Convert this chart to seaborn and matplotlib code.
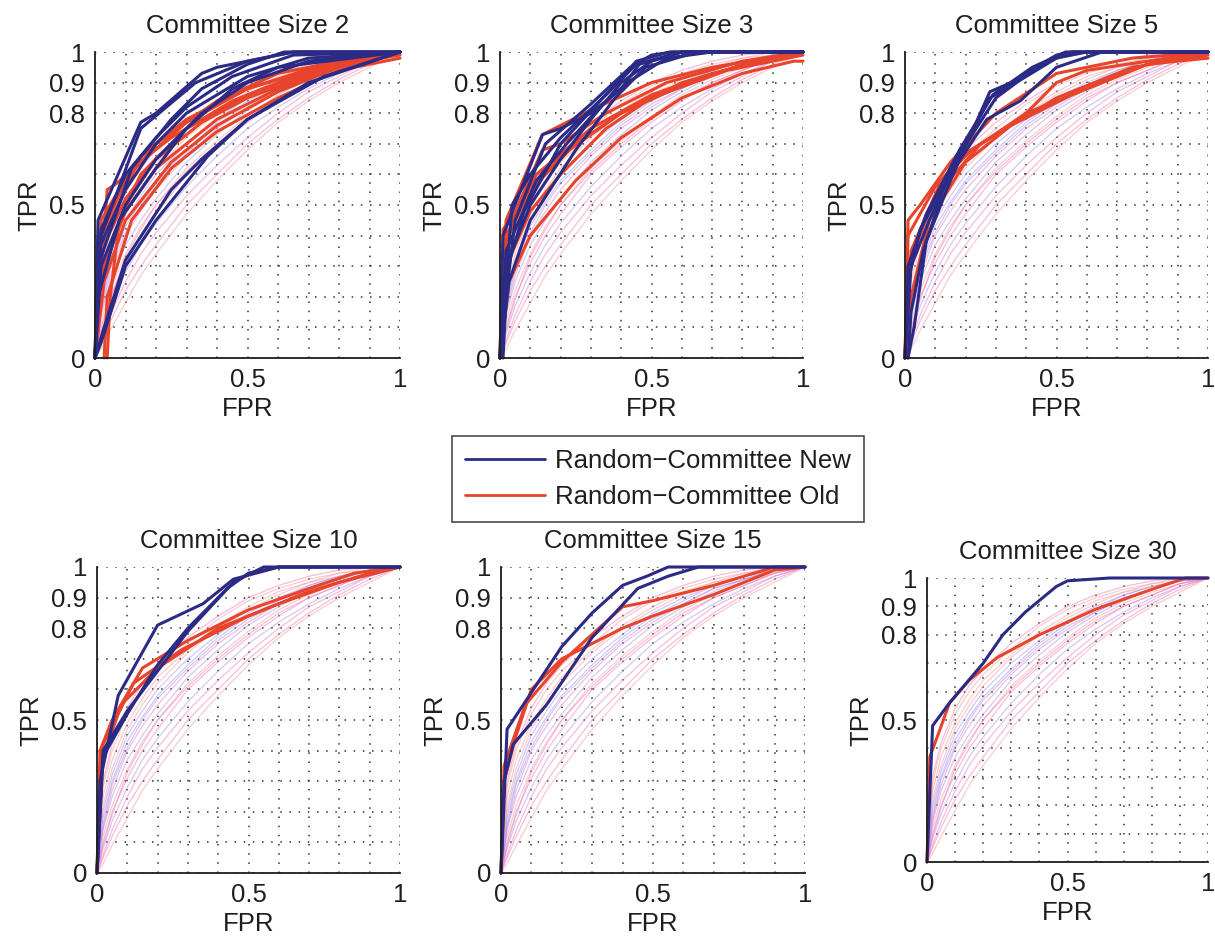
import numpy as np
import pandas as pd
import matplotlib
matplotlib.use("Agg")
import matplotlib.pyplot as plt
import seaborn as sns
from matplotlib.lines import Line2D

sns.set_style("white")
plt.rcParams['font.family'] = ['Liberation Sans', 'DejaVu Sans']

# ---------------- data ----------------
titles = ["Committee Size 2", "Committee Size 3", "Committee Size 5",
          "Committee Size 10", "Committee Size 15", "Committee Size 30"]
legend_labels = ["Random\u2212Committee New", "Random\u2212Committee Old"]

# Each curve: list of (FPR, TPR) points
new_size2 = [
    [(0,0),(0.01,0.45),(0.15,0.77),(0.2,0.8),(0.35,0.93),(0.4,0.95),(0.65,1),(1,1)],
    [(0,0),(0.02,0.4),(0.15,0.75),(0.33,0.9),(0.5,0.97),(0.65,1),(1,1)],
    [(0,0),(0.02,0.05),(0.1,0.3),(0.2,0.45),(0.37,0.66),(0.5,0.78),(0.7,0.9),(1,1)],
    [(0,0),(0.03,0.1),(0.1,0.32),(0.25,0.55),(0.35,0.65),(0.5,0.78),(0.75,0.92),(1,1)],
    [(0,0),(0.01,0.35),(0.1,0.55),(0.2,0.7),(0.3,0.8),(0.5,0.92),(0.7,0.98),(1,1)],
    [(0,0),(0.02,0.3),(0.1,0.5),(0.2,0.65),(0.35,0.8),(0.5,0.9),(0.7,0.97),(1,1)],
    [(0,0),(0.01,0.2),(0.08,0.45),(0.2,0.62),(0.3,0.75),(0.45,0.88),(0.6,0.95),(1,1)],
    [(0,0),(0.02,0.42),(0.1,0.6),(0.2,0.72),(0.3,0.82),(0.45,0.92),(0.65,0.99),(1,1)],
    [(0,0),(0.01,0.3),(0.12,0.62),(0.25,0.78),(0.35,0.88),(0.5,0.96),(0.62,1),(1,1)],
]
old_size2 = [
    [(0.04,0),(0.05,0.2),(0.08,0.45),(0.15,0.6),(0.3,0.75),(0.5,0.86),(0.75,0.95),(1,0.99)],
    [(0,0),(0.04,0.55),(0.07,0.57),(0.15,0.64),(0.3,0.77),(0.5,0.88),(0.75,0.96),(1,1)],
    [(0,0),(0.02,0.35),(0.1,0.52),(0.2,0.65),(0.35,0.77),(0.5,0.85),(0.8,0.96),(1,1)],
    [(0,0),(0.03,0.3),(0.1,0.48),(0.2,0.62),(0.4,0.78),(0.6,0.88),(0.8,0.95),(1,1)],
    [(0,0),(0.02,0.4),(0.1,0.58),(0.2,0.7),(0.4,0.84),(0.6,0.93),(0.8,0.97),(1,1)],
    [(0,0),(0.03,0.25),(0.1,0.45),(0.25,0.64),(0.4,0.76),(0.6,0.87),(0.8,0.95),(1,1)],
    [(0,0),(0.02,0.45),(0.12,0.62),(0.25,0.72),(0.45,0.84),(0.65,0.92),(0.85,0.97),(1,1)],
    [(0.03,0),(0.04,0.2),(0.12,0.45),(0.25,0.62),(0.4,0.74),(0.6,0.85),(0.8,0.94),(1,0.98)],
    [(0,0),(0.02,0.38),(0.15,0.66),(0.3,0.78),(0.5,0.88),(0.7,0.94),(0.9,0.98),(1,1)],
]
new_size3 = [
    [(0.01,0),(0.02,0.2),(0.05,0.45),(0.15,0.7),(0.3,0.83),(0.43,0.95),(0.5,0.99),(0.57,1),(1,1)],
    [(0,0),(0.04,0.5),(0.1,0.6),(0.2,0.72),(0.35,0.86),(0.45,0.96),(0.6,1),(1,1)],
    [(0,0),(0.02,0.3),(0.1,0.5),(0.2,0.65),(0.3,0.78),(0.4,0.9),(0.5,0.97),(0.6,1),(1,1)],
    [(0,0),(0.03,0.25),(0.1,0.45),(0.25,0.68),(0.38,0.85),(0.48,0.95),(0.65,1),(1,1)],
    [(0,0),(0.02,0.35),(0.12,0.58),(0.22,0.7),(0.33,0.82),(0.42,0.9),(0.55,0.98),(0.7,1),(1,1)],
    [(0,0),(0.01,0.4),(0.14,0.73),(0.2,0.75),(0.3,0.8),(0.4,0.88),(0.46,0.96),(0.6,1),(1,1)],
    [(0,0),(0.02,0.28),(0.08,0.48),(0.2,0.7),(0.33,0.84),(0.45,0.97),(0.56,1),(1,1)],
]
old_size3 = [
    [(0,0),(0.02,0.45),(0.14,0.73),(0.3,0.81),(0.5,0.9),(0.7,0.95),(1,1)],
    [(0,0),(0.01,0.35),(0.06,0.5),(0.14,0.68),(0.2,0.7),(0.35,0.8),(0.55,0.9),(0.8,0.97),(1,1)],
    [(0,0),(0.02,0.3),(0.1,0.48),(0.2,0.6),(0.35,0.75),(0.5,0.85),(0.75,0.94),(1,0.99)],
    [(0,0),(0.03,0.25),(0.1,0.4),(0.25,0.58),(0.4,0.72),(0.6,0.85),(0.8,0.93),(0.97,0.97),(1,0.97)],
    [(0,0),(0.02,0.4),(0.1,0.55),(0.25,0.7),(0.4,0.8),(0.6,0.89),(0.8,0.96),(1,1)],
    [(0,0),(0.02,0.38),(0.12,0.6),(0.3,0.75),(0.5,0.86),(0.7,0.93),(0.9,0.98),(1,1)],
    [(0,0),(0.01,0.42),(0.08,0.52),(0.2,0.66),(0.4,0.8),(0.6,0.9),(0.85,0.97),(1,1)],
]
new_size5 = [
    [(0.01,0),(0.03,0.1),(0.07,0.38),(0.15,0.58),(0.28,0.87),(0.35,0.9),(0.5,0.99),(0.55,1),(1,1)],
    [(0,0),(0.02,0.3),(0.08,0.45),(0.18,0.66),(0.28,0.85),(0.4,0.92),(0.5,0.98),(0.6,1),(1,1)],
    [(0,0),(0.01,0.25),(0.05,0.42),(0.15,0.6),(0.27,0.78),(0.38,0.84),(0.5,0.95),(0.65,1),(1,1)],
    [(0.01,0),(0.02,0.15),(0.06,0.35),(0.15,0.62),(0.3,0.85),(0.45,0.96),(0.55,1),(1,1)],
    [(0,0),(0.01,0.3),(0.07,0.47),(0.18,0.68),(0.29,0.86),(0.42,0.95),(0.53,1),(1,1)],
]
old_size5 = [
    [(0,0),(0.01,0.45),(0.05,0.5),(0.15,0.64),(0.3,0.8),(0.5,0.93),(0.75,0.98),(1,1)],
    [(0,0),(0.01,0.3),(0.1,0.53),(0.25,0.7),(0.4,0.8),(0.6,0.88),(0.8,0.96),(1,0.98)],
    [(0,0),(0.02,0.2),(0.08,0.45),(0.2,0.64),(0.35,0.76),(0.55,0.86),(0.8,0.96),(1,1)],
    [(0,0),(0.01,0.4),(0.1,0.56),(0.2,0.67),(0.3,0.73),(0.5,0.85),(0.75,0.95),(1,0.99)],
    [(0,0),(0.02,0.35),(0.12,0.58),(0.22,0.68),(0.38,0.78),(0.5,0.9),(0.6,0.94),(0.8,0.97),(1,1)],
]
new_size10 = [
    [(0,0),(0.01,0.3),(0.07,0.58),(0.2,0.81),(0.35,0.88),(0.45,0.96),(0.6,1),(1,1)],
    [(0,0),(0.02,0.4),(0.1,0.53),(0.2,0.66),(0.3,0.79),(0.45,0.95),(0.55,1),(1,1)],
    [(0,0),(0.02,0.38),(0.1,0.52),(0.2,0.68),(0.3,0.8),(0.43,0.93),(0.5,0.98),(0.6,1),(1,1)],
]
old_size10 = [
    [(0,0),(0.01,0.4),(0.05,0.5),(0.15,0.67),(0.3,0.76),(0.5,0.86),(0.7,0.93),(0.85,0.98),(1,1)],
    [(0,0),(0.01,0.35),(0.08,0.55),(0.2,0.67),(0.4,0.8),(0.6,0.88),(0.8,0.95),(1,1)],
    [(0,0),(0.02,0.42),(0.12,0.62),(0.28,0.73),(0.5,0.84),(0.7,0.92),(0.9,0.98),(1,1)],
]
new_size15 = [
    [(0,0),(0.02,0.47),(0.1,0.59),(0.2,0.74),(0.3,0.85),(0.4,0.94),(0.48,0.97),(0.55,1),(1,1)],
    [(0,0),(0.01,0.3),(0.04,0.42),(0.15,0.55),(0.3,0.77),(0.45,0.93),(0.55,0.97),(0.65,1),(1,1)],
]
old_size15 = [
    [(0,0),(0.01,0.3),(0.05,0.45),(0.1,0.6),(0.2,0.7),(0.3,0.75),(0.4,0.8),(0.5,0.84),(0.7,0.91),(0.9,0.99),(1,1)],
    [(0,0),(0.01,0.35),(0.08,0.55),(0.2,0.69),(0.3,0.78),(0.4,0.87),(0.5,0.89),(0.7,0.94),(0.9,1),(1,1)],
]
new_size30 = [
    [(0,0),(0.02,0.48),(0.08,0.56),(0.2,0.7),(0.27,0.8),(0.35,0.88),(0.46,0.97),(0.5,0.99),(0.65,1),(1,1)],
]
old_size30 = [
    [(0,0),(0.01,0.37),(0.04,0.45),(0.08,0.56),(0.15,0.64),(0.25,0.72),(0.4,0.8),(0.6,0.89),(0.8,0.96),(0.92,1),(1,1)],
]

# faint background curves (other methods)
bg_fpr = [0, 0.02, 0.05, 0.1, 0.15, 0.2, 0.3, 0.4, 0.5, 0.6, 0.7, 0.8, 0.9, 1.0]
bg_tpr = [
    [0, 0.05, 0.12, 0.22, 0.30, 0.37, 0.50, 0.60, 0.70, 0.78, 0.85, 0.91, 0.96, 1],
    [0, 0.08, 0.17, 0.28, 0.37, 0.44, 0.56, 0.66, 0.75, 0.82, 0.88, 0.93, 0.97, 1],
    [0, 0.12, 0.22, 0.34, 0.43, 0.50, 0.62, 0.71, 0.79, 0.86, 0.91, 0.95, 0.98, 1],
    [0, 0.15, 0.27, 0.40, 0.48, 0.55, 0.66, 0.75, 0.82, 0.88, 0.93, 0.96, 0.99, 1],
    [0, 0.20, 0.32, 0.45, 0.53, 0.60, 0.70, 0.78, 0.85, 0.90, 0.94, 0.97, 0.99, 1],
    [0, 0.25, 0.37, 0.49, 0.57, 0.64, 0.73, 0.81, 0.87, 0.92, 0.95, 0.98, 0.99, 1],
    [0, 0.10, 0.20, 0.31, 0.40, 0.47, 0.60, 0.69, 0.77, 0.84, 0.90, 0.94, 0.98, 1],
    [0, 0.18, 0.30, 0.43, 0.51, 0.58, 0.68, 0.77, 0.84, 0.89, 0.94, 0.97, 0.99, 1],
    [0, 0.28, 0.40, 0.52, 0.60, 0.66, 0.75, 0.83, 0.89, 0.93, 0.96, 0.98, 1.00, 1],
    [0, 0.06, 0.14, 0.25, 0.34, 0.41, 0.53, 0.63, 0.72, 0.80, 0.87, 0.92, 0.97, 1],
    [0, 0.14, 0.25, 0.37, 0.45, 0.52, 0.64, 0.73, 0.81, 0.87, 0.92, 0.96, 0.99, 1],
    [0, 0.22, 0.34, 0.47, 0.55, 0.62, 0.72, 0.80, 0.86, 0.91, 0.95, 0.97, 0.99, 1],
    [0, 0.09, 0.19, 0.33, 0.42, 0.50, 0.61, 0.70, 0.78, 0.85, 0.90, 0.94, 0.98, 1],
    [0, 0.16, 0.29, 0.41, 0.50, 0.57, 0.67, 0.76, 0.83, 0.88, 0.93, 0.96, 0.99, 1],
    [0, 0.03, 0.09, 0.18, 0.27, 0.34, 0.47, 0.58, 0.68, 0.77, 0.84, 0.90, 0.95, 1],
    [0, 0.30, 0.42, 0.54, 0.62, 0.68, 0.77, 0.84, 0.90, 0.94, 0.97, 0.99, 1.00, 1],
]

new_curves = [new_size2, new_size3, new_size5, new_size10, new_size15, new_size30]
old_curves = [old_size2, old_size3, old_size5, old_size10, old_size15, old_size30]

ytick_vals = [round(v, 1) for v in np.arange(0, 1.01, 0.1)]
ytick_labels = {0.0: "0", 0.5: "0.5", 0.8: "0.8", 0.9: "0.9", 1.0: "1"}
xtick_labels = {0.0: "0", 0.5: "0.5", 1.0: "1"}

# ---------------- style ----------------
BLUE = "#2b2b86"
RED = "#e8432b"
BG_COLORS = ["#f07ab8", "#a890f0", "#f59a9a"]
TXT = "#1e1e1e"
FS = 18.5
W, H = 1215, 944

# axes rectangles in pixels: (x0, x1, y_top, y_bottom)
rects = [(95, 400, 52, 358), (500, 803, 52, 358), (905, 1208, 52, 358),
         (97, 400, 567, 873), (501, 805, 567, 873), (927, 1208, 578, 862)]

fig = plt.figure(figsize=(W / 100, H / 100), dpi=100)


def curve_df(curves):
    rows = []
    for i, c in enumerate(curves):
        for j, (x, y) in enumerate(c):
            rows.append({"curve": i, "order": j, "fpr": x, "tpr": y})
    return pd.DataFrame(rows)


bg_rows = []
for i, t in enumerate(bg_tpr):
    for j, (x, y) in enumerate(zip(bg_fpr, t)):
        bg_rows.append({"curve": i, "order": j, "fpr": x, "tpr": y})
bg_df = pd.DataFrame(bg_rows)

for k, (x0, x1, yt, yb) in enumerate(rects):
    ax = fig.add_axes([x0 / W, 1 - yb / H, (x1 - x0) / W, (yb - yt) / H])
    ax.set_xlim(0, 1)
    ax.set_ylim(0, 1)

    # background faint curves
    for i in range(len(bg_tpr)):
        sub = bg_df[bg_df.curve == i]
        sns.lineplot(data=sub, x="fpr", y="tpr", sort=False, estimator=None,
                     color=BG_COLORS[i % 3], alpha=0.5, lw=0.9, ax=ax,
                     legend=False, clip_on=False)

    odf = curve_df(old_curves[k])
    ndf = curve_df(new_curves[k])
    for i in sorted(set(odf.curve)):
        sns.lineplot(data=odf[odf.curve == i], x="fpr", y="tpr", sort=False,
                     estimator=None, color=RED, lw=2.2, ax=ax, legend=False,
                     clip_on=False)
    for i in sorted(set(ndf.curve)):
        sns.lineplot(data=ndf[ndf.curve == i], x="fpr", y="tpr", sort=False,
                     estimator=None, color=BLUE, lw=2.2, ax=ax, legend=False,
                     clip_on=False)

    ax.set_xticks(ytick_vals)
    ax.set_xticklabels([xtick_labels.get(v, "") for v in ytick_vals])
    ax.set_yticks(ytick_vals)
    ax.set_yticklabels([ytick_labels.get(v, "") for v in ytick_vals])
    ax.tick_params(direction="in", length=5, width=1, labelsize=FS,
                   colors=TXT, pad=7)
    ax.grid(True, linestyle=(0, (1, 5)), color="#333333", lw=1.1)
    for s in ["top", "right"]:
        ax.spines[s].set_visible(False)
    for s in ["left", "bottom"]:
        ax.spines[s].set_color(TXT)
        ax.spines[s].set_linewidth(1.3)
    ax.set_xlabel("FPR", fontsize=FS, color=TXT, labelpad=4)
    ax.set_ylabel("TPR", fontsize=FS, color=TXT, labelpad=6)
    ax.set_title(titles[k], fontsize=FS, color=TXT, pad=14)
    ax.set_facecolor("white")

handles = [Line2D([0], [0], color=BLUE, lw=2), Line2D([0], [0], color=RED, lw=2)]
leg = fig.legend(handles, legend_labels, loc="center",
                 bbox_to_anchor=(658 / W, 1 - 479 / H), fontsize=FS,
                 frameon=True, fancybox=False, edgecolor=TXT,
                 handlelength=3.1, handletextpad=0.4, borderpad=0.5,
                 borderaxespad=0.0, labelspacing=0.45)
leg.get_frame().set_linewidth(1.2)
for t in leg.get_texts():
    t.set_color(TXT)

fig.savefig("out.png", dpi=100, facecolor="white")
